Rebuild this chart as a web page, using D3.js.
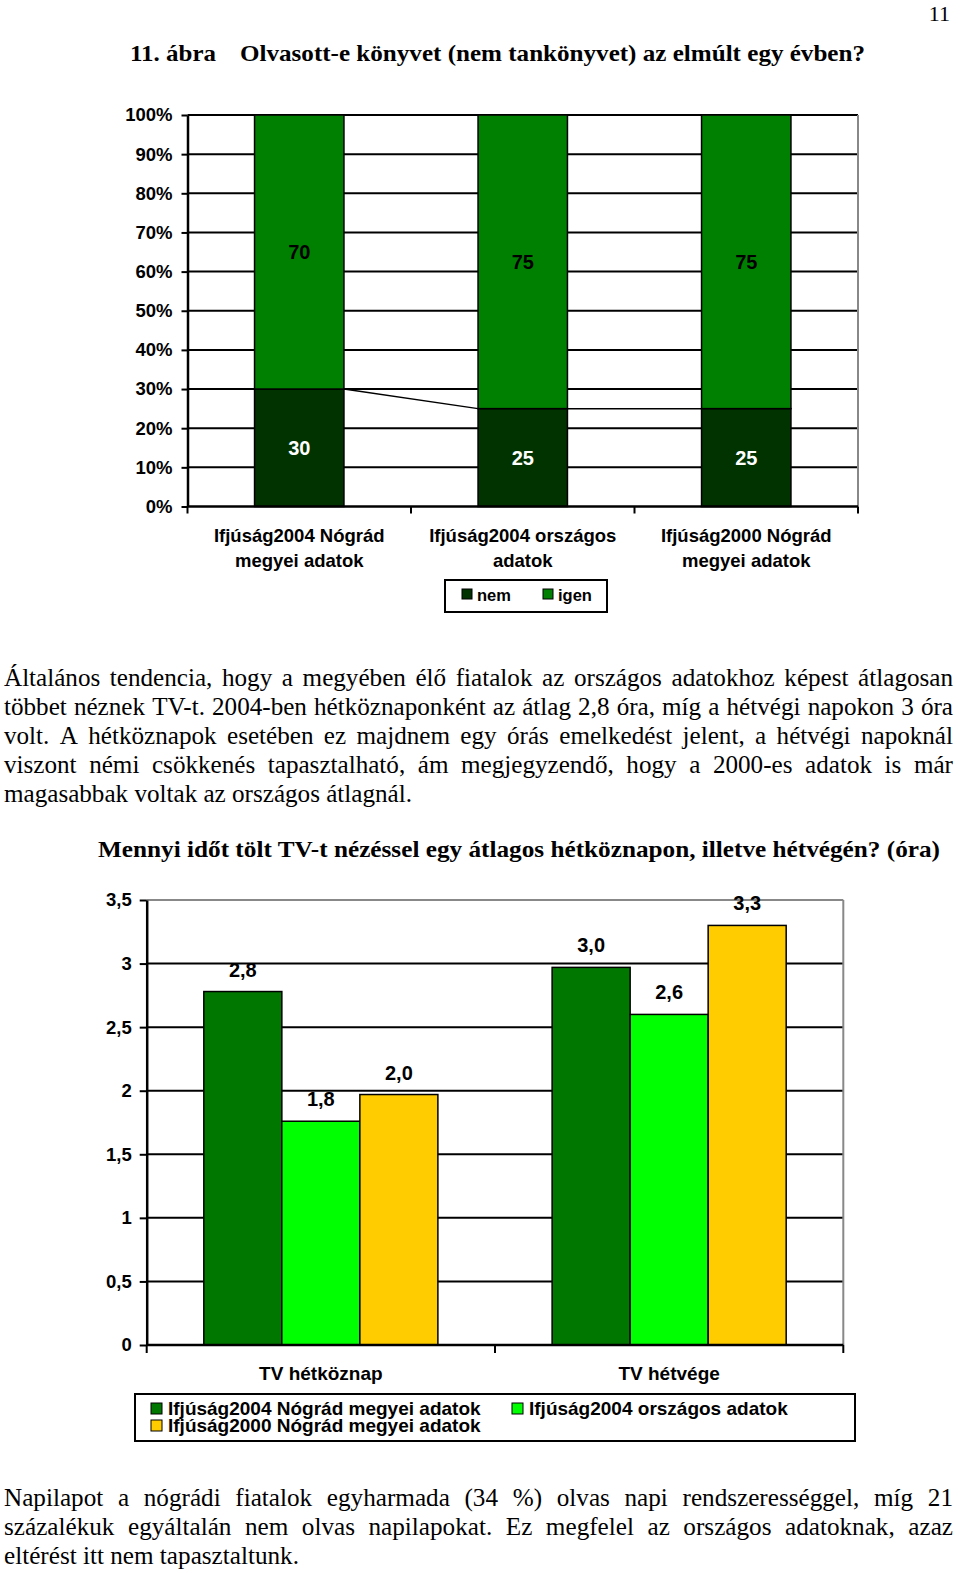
<!DOCTYPE html>
<html>
<head>
<meta charset="utf-8">
<script src="https://cdn.jsdelivr.net/npm/d3@7"></script>
<style>
  html, body { margin: 0; padding: 0; background: #fff; }
  svg { display: block; }
</style>
</head>
<body>
<svg id="page" width="960" height="1573"></svg>
<script>
// ---------- DATA ----------
const bookCategories = [["Ifjúság2004 Nógrád", "megyei adatok"], ["Ifjúság2004 országos", "adatok"], ["Ifjúság2000 Nógrád", "megyei adatok"]];
const bookNem = [30, 25, 25];
const bookIgen = [70, 75, 75];
const bookSeries = ["nem", "igen"];
const pctTicks = [0, 10, 20, 30, 40, 50, 60, 70, 80, 90, 100];

const tvGroups = ["TV hétköznap", "TV hétvége"];
const tvSeries = ["Ifjúság2004 Nógrád megyei adatok", "Ifjúság2004 országos adatok", "Ifjúság2000 Nógrád megyei adatok"];
const tvWeekday = [2.78, 1.76, 1.97];
const tvWeekend = [2.97, 2.60, 3.30];
const hourTicks = [0, 0.5, 1, 1.5, 2, 2.5, 3, 3.5];

const para1 = [
  "Általános tendencia, hogy a megyében élő fiatalok az országos adatokhoz képest átlagosan",
  "többet néznek TV-t. 2004-ben hétköznaponként az átlag 2,8 óra, míg a hétvégi napokon 3 óra",
  "volt. A hétköznapok esetében ez majdnem egy órás emelkedést jelent, a hétvégi napoknál",
  "viszont némi csökkenés tapasztalható, ám megjegyzendő, hogy a 2000-es adatok is már",
  "magasabbak voltak az országos átlagnál."
];
const para2 = [
  "Napilapot a nógrádi fiatalok egyharmada (34 %) olvas napi rendszerességgel, míg 21",
  "százalékuk egyáltalán nem olvas napilapokat. Ez megfelel az országos adatoknak, azaz",
  "eltérést itt nem tapasztaltunk."
];

// ---------- SETUP ----------
const svg = d3.select("#page");
const SERIF = "'Liberation Serif', 'Times New Roman', serif";
const SANS = "'Liberation Sans', Arial, sans-serif";
const LBL = 18.5;

// page number + titles
svg.append("text").attr("x", 950).attr("y", 21).attr("text-anchor", "end")
  .attr("font-family", SERIF).attr("font-size", 22).text("11");
svg.append("text").attr("x", 130).attr("y", 61)
  .attr("font-family", SERIF).attr("font-weight", "bold").attr("font-size", 23)
  .attr("textLength", 86).attr("lengthAdjust", "spacingAndGlyphs").text("11. ábra");
svg.append("text").attr("x", 240).attr("y", 61)
  .attr("font-family", SERIF).attr("font-weight", "bold").attr("font-size", 23)
  .attr("textLength", 625).attr("lengthAdjust", "spacingAndGlyphs")
  .text("Olvasott-e könyvet (nem tankönyvet) az elmúlt egy évben?");
svg.append("text").attr("x", 98).attr("y", 857)
  .attr("font-family", SERIF).attr("font-weight", "bold").attr("font-size", 23)
  .attr("textLength", 842).attr("lengthAdjust", "spacingAndGlyphs")
  .text("Mennyi időt tölt TV-t nézéssel egy átlagos hétköznapon, illetve hétvégén? (óra)");

// ---------- TOP CHART (stacked 100%) ----------
const topG = svg.append("g");
const yT = d3.scaleLinear().domain([0, 100]).range([506.5, 115]);
const xT = d3.scaleBand().domain(d3.range(bookCategories.length)).range([187.5, 858]).paddingInner(0.6).paddingOuter(0.3);

topG.append("g").selectAll("line").data(pctTicks.filter(d => d > 0)).join("line")
  .attr("x1", 187.5).attr("x2", 858).attr("y1", d => yT(d)).attr("y2", d => yT(d))
  .attr("stroke", "#000").attr("stroke-width", 2);
topG.append("line").attr("x1", 858).attr("x2", 858).attr("y1", yT(100)).attr("y2", yT(0))
  .attr("stroke", "#888").attr("stroke-width", 2);

const stackData = bookCategories.map((c, i) => ({ i, nem: bookNem[i], igen: bookIgen[i] }));
const stacked = d3.stack().keys(bookSeries)(stackData);
const topColors = { nem: "#003300", igen: "#008000" };
const topTextColors = { nem: "#ffffff", igen: "#000000" };

stacked.forEach(layer => {
  topG.append("g").selectAll("rect").data(layer).join("rect")
    .attr("x", d => xT(d.data.i)).attr("width", xT.bandwidth())
    .attr("y", d => yT(d[1])).attr("height", d => yT(d[0]) - yT(d[1]))
    .attr("fill", topColors[layer.key]).attr("stroke", "#000").attr("stroke-width", 1.5);
  topG.append("g").selectAll("text").data(layer).join("text")
    .attr("x", d => xT(d.data.i) + xT.bandwidth() / 2)
    .attr("y", d => yT((d[0] + d[1]) / 2) + 7)
    .attr("text-anchor", "middle").attr("font-family", SANS).attr("font-weight", "bold")
    .attr("font-size", 20).attr("fill", topTextColors[layer.key])
    .text(d => d.data[layer.key]);
  const pairs = d3.pairs(layer);
  topG.append("g").selectAll("line").data(pairs).join("line")
    .attr("x1", p => xT(p[0].data.i) + xT.bandwidth()).attr("y1", p => yT(p[0][1]))
    .attr("x2", p => xT(p[1].data.i)).attr("y2", p => yT(p[1][1]))
    .attr("stroke", "#000").attr("stroke-width", 1.5);
});

const yAxT = topG.append("g").attr("transform", "translate(187.5,0)")
  .call(d3.axisLeft(yT).tickValues(pctTicks).tickFormat(d => d + "%").tickSize(6).tickSizeOuter(0));
yAxT.select(".domain").attr("stroke", "#000").attr("stroke-width", 2.5);
yAxT.selectAll(".tick line").attr("stroke", "#000").attr("stroke-width", 2);
yAxT.selectAll(".tick text").attr("font-family", SANS).attr("font-weight", "bold")
  .attr("font-size", LBL).attr("fill", "#000").attr("x", -15);

topG.append("line").attr("x1", 187.5).attr("x2", 858).attr("y1", yT(0)).attr("y2", yT(0))
  .attr("stroke", "#000").attr("stroke-width", 2.5);
const bTicks = d3.range(bookCategories.length + 1).map(i => 187.5 + i * xT.step());
topG.append("g").selectAll("line").data(bTicks).join("line")
  .attr("x1", d => d).attr("x2", d => d).attr("y1", yT(0)).attr("y2", yT(0) + 7)
  .attr("stroke", "#000").attr("stroke-width", 2);
bookCategories.forEach((lines, i) => {
  lines.forEach((ln, k) => {
    topG.append("text").attr("x", xT(i) + xT.bandwidth() / 2).attr("y", 541.5 + k * 25)
      .attr("text-anchor", "middle").attr("font-family", SANS).attr("font-weight", "bold")
      .attr("font-size", LBL).text(ln);
  });
});

// legend 1
const lg1 = svg.append("g");
lg1.append("rect").attr("x", 445).attr("y", 580).attr("width", 162).attr("height", 32)
  .attr("fill", "#fff").attr("stroke", "#000").attr("stroke-width", 2);
const lg1x = [462, 543];
bookSeries.forEach((s, i) => {
  lg1.append("rect").attr("x", lg1x[i]).attr("y", 589).attr("width", 10).attr("height", 10)
    .attr("fill", topColors[s]).attr("stroke", "#000").attr("stroke-width", 1);
  lg1.append("text").attr("x", lg1x[i] + 15).attr("y", 600.5).attr("font-family", SANS)
    .attr("font-weight", "bold").attr("font-size", 16.5).text(s);
});

// ---------- PARAGRAPHS ----------
function writePara(lines, y0, lh, x0, x1, fontSize, lastWidth) {
  const g = svg.append("g").attr("font-family", SERIF).attr("font-size", fontSize).attr("fill", "#000");
  const t = g.append("text").text(lines[lines.length - 1]);
  const w = t.node().getComputedTextLength();
  t.remove();
  const k = lastWidth / w;
  lines.forEach((line, li) => {
    const y = y0 + li * lh;
    const words = line.split(" ");
    const els = words.map(wd => g.append("text").attr("y", y).text(wd));
    const widths = els.map(e => e.node().getComputedTextLength() * k);
    els.forEach((e, j) => e.attr("textLength", widths[j]).attr("lengthAdjust", "spacingAndGlyphs"));
    const last = li === lines.length - 1;
    const total = d3.sum(widths);
    const spaceW = (lastWidth - total) / Math.max(1, words.length - 1);
    const gap = last ? spaceW : (x1 - x0 - total) / (words.length - 1);
    let x = x0;
    els.forEach((e, j) => { e.attr("x", x); x += widths[j] + gap; });
  });
}
writePara(para1, 686, 29, 4, 953, 25, 408);
writePara(para2, 1506, 29, 4, 953, 24.5, 295);

// ---------- BOTTOM CHART (grouped bars) ----------
const bot = svg.append("g");
const yB = d3.scaleLinear().domain([0, 3.5]).range([1345, 900]);
const x0 = d3.scaleBand().domain(tvGroups).range([146.7, 843.3]).paddingInner(0.328).paddingOuter(0.164);
const x1 = d3.scaleBand().domain(tvSeries).range([0, x0.bandwidth()]);
const tvColors = ["#007800", "#00ff00", "#ffcc00"];
const color = d3.scaleOrdinal().domain(tvSeries).range(tvColors);
const tvData = [tvWeekday, tvWeekend];
const fmt = v => d3.format(".1f")(v).replace(".", ",");

bot.append("g").selectAll("line").data(hourTicks.filter(d => d > 0 && d < 3.5)).join("line")
  .attr("x1", 146.7).attr("x2", 843.3).attr("y1", d => yB(d)).attr("y2", d => yB(d))
  .attr("stroke", "#000").attr("stroke-width", 2);
bot.append("line").attr("x1", 146.7).attr("x2", 843.3).attr("y1", yB(3.5)).attr("y2", yB(3.5))
  .attr("stroke", "#888").attr("stroke-width", 2);
bot.append("line").attr("x1", 843.3).attr("x2", 843.3).attr("y1", yB(3.5)).attr("y2", yB(0))
  .attr("stroke", "#888").attr("stroke-width", 2);

tvGroups.forEach((grp, gi) => {
  const vals = tvData[gi].map((v, si) => ({ s: tvSeries[si], v }));
  const g = bot.append("g").attr("transform", `translate(${x0(grp)},0)`);
  g.selectAll("rect").data(vals).join("rect")
    .attr("x", d => x1(d.s)).attr("width", x1.bandwidth())
    .attr("y", d => yB(d.v)).attr("height", d => yB(0) - yB(d.v))
    .attr("fill", d => color(d.s)).attr("stroke", "#000").attr("stroke-width", 1.5);
  g.selectAll("text").data(vals).join("text")
    .attr("x", d => x1(d.s) + x1.bandwidth() / 2).attr("y", d => yB(d.v) - 15)
    .attr("text-anchor", "middle").attr("font-family", SANS).attr("font-weight", "bold")
    .attr("font-size", 20).text(d => fmt(d.v));
});

const yAxB = bot.append("g").attr("transform", "translate(146.7,0)")
  .call(d3.axisLeft(yB).tickValues(hourTicks).tickFormat(d => String(d).replace(".", ",")).tickSize(7).tickSizeOuter(0));
yAxB.select(".domain").attr("stroke", "#000").attr("stroke-width", 2.5);
yAxB.selectAll(".tick line").attr("stroke", "#000").attr("stroke-width", 2);
yAxB.selectAll(".tick text").attr("font-family", SANS).attr("font-weight", "bold")
  .attr("font-size", LBL).attr("fill", "#000").attr("x", -15);

bot.append("line").attr("x1", 146.7).attr("x2", 843.3).attr("y1", yB(0)).attr("y2", yB(0))
  .attr("stroke", "#000").attr("stroke-width", 2.5);
const gTicks = d3.range(tvGroups.length + 1).map(i => 146.7 + i * x0.step());
bot.append("g").selectAll("line").data(gTicks).join("line")
  .attr("x1", d => d).attr("x2", d => d).attr("y1", yB(0)).attr("y2", yB(0) + 8)
  .attr("stroke", "#000").attr("stroke-width", 2);
tvGroups.forEach(grp => {
  bot.append("text").attr("x", x0(grp) + x0.bandwidth() / 2).attr("y", 1380)
    .attr("text-anchor", "middle").attr("font-family", SANS).attr("font-weight", "bold")
    .attr("font-size", LBL + 0.5).text(grp);
});

// legend 2
const lg2 = svg.append("g");
lg2.append("rect").attr("x", 135).attr("y", 1394).attr("width", 720).attr("height", 47)
  .attr("fill", "#fff").attr("stroke", "#000").attr("stroke-width", 2);
const lg2pos = [[151, 1415], [512, 1415], [151, 1432]];
tvSeries.forEach((s, i) => {
  const [lx, ly] = lg2pos[i];
  lg2.append("rect").attr("x", lx).attr("y", ly - 12).attr("width", 11).attr("height", 11)
    .attr("fill", color(s)).attr("stroke", "#000").attr("stroke-width", 1);
  lg2.append("text").attr("x", lx + 17).attr("y", ly).attr("font-family", SANS)
    .attr("font-weight", "bold").attr("font-size", 19).text(s);
});
</script>
</body>
</html>
